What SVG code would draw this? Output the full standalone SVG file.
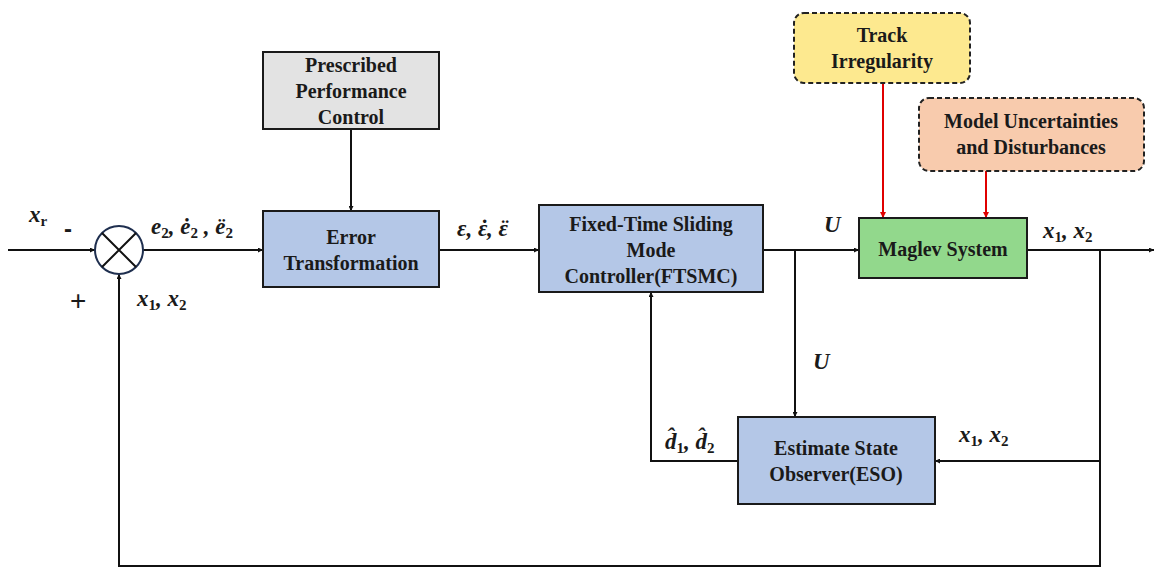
<svg xmlns="http://www.w3.org/2000/svg" width="1154" height="568" viewBox="0 0 1154 568">
<style>
.box{stroke:#1a1a1a;stroke-width:2}
.blue{fill:#b4c7e7}
.ln{fill:none;stroke:#111;stroke-width:2}
.red{fill:none;stroke:#e00000;stroke-width:2}
.dash{stroke:#222;stroke-width:2;stroke-dasharray:5 3}
</style>
<defs>
<marker id="ah" viewBox="0 0 10 10" refX="10" refY="5" markerWidth="5" markerHeight="5" orient="auto" markerUnits="userSpaceOnUse"><path d="M0,0 L10,5 L0,10 z" fill="#111"/></marker>
<marker id="ahr" viewBox="0 0 10 10" refX="10" refY="5" markerWidth="6" markerHeight="6" orient="auto" markerUnits="userSpaceOnUse"><path d="M0,0 L10,5 L0,10 z" fill="#e00000"/></marker>
</defs>
<rect width="1154" height="568" fill="#fff"/>

<g id="connectors">
<path class="ln" d="M8,250 H95" marker-end="url(#ah)"/>
<path class="ln" d="M143,250 H263" marker-end="url(#ah)"/>
<path class="ln" d="M351,129 V211" marker-end="url(#ah)"/>
<path class="ln" d="M439,250 H539" marker-end="url(#ah)"/>
<path class="ln" d="M763,250 H859" marker-end="url(#ah)"/>
<path class="ln" d="M795,250 V417" marker-end="url(#ah)"/>
<path class="ln" d="M1027,250 H1154" marker-end="url(#ah)"/>
<path class="ln" d="M1100,250 V566 H119 V274" marker-end="url(#ah)"/>
<path class="ln" d="M1100,461 H935" marker-end="url(#ah)"/>
<path class="ln" d="M738,461 H651 V292" marker-end="url(#ah)"/>
<path class="red" d="M883,83 V218" marker-end="url(#ahr)"/>
<path class="red" d="M986,171 V218" marker-end="url(#ahr)"/>
</g>

<g id="sum">
<circle cx="119" cy="250" r="24" fill="#fff" stroke="#1f2f4f" stroke-width="2"/>
<path d="M102,233 L136,267 M136,233 L102,267" stroke="#111" stroke-width="2"/>
</g>

<g id="ppc" fill="#1a1a1a" text-anchor="middle" font-weight="bold" font-size="20">
<rect class="box" x="263" y="52" width="176" height="77" fill="#e3e3e3"/>
<text x="351" y="72" style="font-family:'Liberation Serif',serif">Prescribed</text>
<text x="351" y="98" style="font-family:'Liberation Serif',serif">Performance</text>
<text x="351" y="124" style="font-family:'Liberation Serif',serif">Control</text>
</g>

<g id="errtrans" fill="#1a1a1a" text-anchor="middle" font-weight="bold" font-size="20">
<rect class="box blue" x="263" y="211" width="176" height="76"/>
<text x="351" y="244" style="font-family:'Liberation Serif',serif">Error</text>
<text x="351" y="270" style="font-family:'Liberation Serif',serif">Transformation</text>
</g>

<g id="ftsmc" fill="#1a1a1a" text-anchor="middle" font-weight="bold" font-size="20">
<rect class="box blue" x="539" y="205" width="224" height="87"/>
<text x="651" y="231" style="font-family:'Liberation Serif',serif">Fixed-Time Sliding</text>
<text x="651" y="257" style="font-family:'Liberation Serif',serif">Mode</text>
<text x="651" y="283" style="font-family:'Liberation Serif',serif">Controller(FTSMC)</text>
</g>

<g id="maglev" fill="#1a1a1a" text-anchor="middle" font-weight="bold" font-size="20">
<rect class="box" x="859" y="218" width="168" height="60" fill="#92d88c"/>
<text x="943" y="256" style="font-family:'Liberation Serif',serif">Maglev System</text>
</g>

<g id="track" fill="#1a1a1a" text-anchor="middle" font-weight="bold" font-size="20">
<rect class="dash" x="794" y="13" width="176" height="70" rx="10" fill="#fde98f"/>
<text x="882" y="42" style="font-family:'Liberation Serif',serif">Track</text>
<text x="882" y="68" style="font-family:'Liberation Serif',serif">Irregularity</text>
</g>

<g id="model" fill="#1a1a1a" text-anchor="middle" font-weight="bold" font-size="20">
<rect class="dash" x="919" y="98" width="225" height="73" rx="10" fill="#f8cbad"/>
<text x="1031" y="128" style="font-family:'Liberation Serif',serif">Model Uncertainties</text>
<text x="1031" y="154" style="font-family:'Liberation Serif',serif">and Disturbances</text>
</g>

<g id="eso" fill="#1a1a1a" text-anchor="middle" font-weight="bold" font-size="20">
<rect class="box blue" x="738" y="417" width="197" height="87"/>
<text x="836" y="455" style="font-family:'Liberation Serif',serif">Estimate State</text>
<text x="836" y="481" style="font-family:'Liberation Serif',serif">Observer(ESO)</text>
</g>

<g id="labels" fill="#1a1a1a" font-weight="bold" font-size="23">
<text x="29" y="222" style="font-family:'Liberation Serif',serif;font-style:italic">x<tspan font-size="15" style="font-style:normal" dy="4">r</tspan></text>
<text x="64" y="237" style="font-family:'Liberation Sans',sans-serif" font-size="24">-</text>
<text x="70" y="310" style="font-family:'Liberation Sans',sans-serif;font-weight:normal" font-size="28">+</text>
<text x="151" y="234" style="font-family:'Liberation Serif',serif;font-style:italic">e<tspan font-size="15" style="font-style:normal" dy="4">2</tspan><tspan dy="-4">, ė</tspan><tspan font-size="15" style="font-style:normal" dy="4">2</tspan><tspan dy="-4"> , ë</tspan><tspan font-size="15" style="font-style:normal" dy="4">2</tspan></text>
<text x="137" y="306" style="font-family:'Liberation Serif',serif;font-style:italic">x<tspan font-size="15" style="font-style:normal" dy="4">1</tspan><tspan dy="-4">, x</tspan><tspan font-size="15" style="font-style:normal" dy="4">2</tspan></text>
<text x="457" y="236" style="font-family:'Liberation Serif',serif;font-style:italic">ε, ε<tspan dx="-8">˙</tspan><tspan dx="0">, ε</tspan><tspan dx="-8">¨</tspan></text>
<text x="824" y="232" style="font-family:'Liberation Serif',serif;font-style:italic">U</text>
<text x="1043" y="238" style="font-family:'Liberation Serif',serif;font-style:italic">x<tspan font-size="15" style="font-style:normal" dy="4">1</tspan><tspan dy="-4">, x</tspan><tspan font-size="15" style="font-style:normal" dy="4">2</tspan></text>
<text x="813" y="369" style="font-family:'Liberation Serif',serif;font-style:italic">U</text>
<text x="959" y="442" style="font-family:'Liberation Serif',serif;font-style:italic">x<tspan font-size="15" style="font-style:normal" dy="4">1</tspan><tspan dy="-4">, x</tspan><tspan font-size="15" style="font-style:normal" dy="4">2</tspan></text>
<text x="665" y="449" style="font-family:'Liberation Serif',serif;font-style:italic">d̂<tspan font-size="15" style="font-style:normal" dy="4">1</tspan><tspan dy="-4">, d̂</tspan><tspan font-size="15" style="font-style:normal" dy="4">2</tspan></text>
</g>
</svg>
